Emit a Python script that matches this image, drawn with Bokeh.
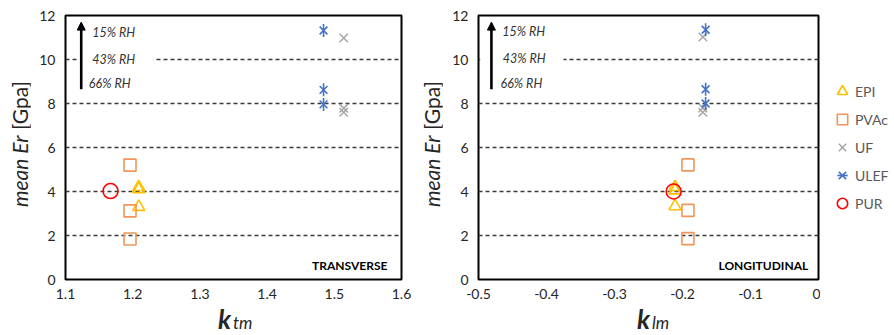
from math import pi
from bokeh.plotting import figure
from bokeh.models import (Range1d, Label, Legend, LegendItem, Arrow, NormalHead,
                          FixedTicker, BoxAnnotation, Div)
from bokeh.layouts import row, column
from bokeh.embed import file_html
from bokeh.resources import INLINE

# ---------------- data ----------------
adhesives = ["EPI", "PVAc", "UF", "ULEF", "PUR"]
rh_labels = ["15% RH", "43% RH", "66% RH"]

# transverse (k_tm)
epi_ktm = [1.209, 1.209, 1.209]
epi_er_t = [4.2, 4.1, 3.3]
pvac_ktm = [1.196, 1.196, 1.196]
pvac_er_t = [5.2, 3.12, 1.84]
uf_ktm = [1.514, 1.514, 1.514]
uf_er_t = [10.98, 7.78, 7.6]
ulef_ktm = [1.484, 1.484, 1.484]
ulef_er_t = [11.32, 8.62, 7.96]
pur_ktm = [1.167]
pur_er_t = [4.02]

# longitudinal (k_lm)
epi_klm = [-0.211, -0.211, -0.211]
epi_er_l = [4.2, 4.05, 3.33]
pvac_klm = [-0.192, -0.192, -0.192]
pvac_er_l = [5.21, 3.14, 1.86]
uf_klm = [-0.17, -0.17, -0.17]
uf_er_l = [11.02, 7.8, 7.6]
ulef_klm = [-0.166, -0.166, -0.166]
ulef_er_l = [11.35, 8.65, 8.0]
pur_klm = [-0.213]
pur_er_l = [4.0]

xticks_t = [1.1, 1.2, 1.3, 1.4, 1.5, 1.6]
xticks_l = [-0.5, -0.4, -0.3, -0.2, -0.1, 0.0]
yticks = [0, 2, 4, 6, 8, 10, 12]

FONT = "Lato"
TXT = "#262626"
C_EPI = "#FFC000"
C_PVAC = "#F0965A"
C_UF = "#A6A6A6"
C_ULEF = "#4472C4"
C_PUR = "#FF0000"

STYLE = {
    "EPI": dict(marker="triangle", size=12, fill_color=None, line_color=C_EPI, line_width=1.6),
    "PVAc": dict(marker="square", size=12, fill_color=None, line_color=C_PVAC, line_width=1.6),
    "UF": dict(marker="x", size=12, line_color=C_UF, line_width=1.5),
    "ULEF_a": dict(marker="x", size=11, line_color=C_ULEF, line_width=1.6),
    "ULEF_b": dict(marker="dash", angle=pi / 2, size=13, line_color=C_ULEF, line_width=1.6),
    "PUR": dict(marker="circle", size=15, fill_color=None, line_color=C_PUR, line_width=1.6),
}

FIG_H = 305


def make_panel(width, bl, br, xr, xticks, data, arrow_x, box_lr, rh_pos,
               mode_text, mode_x):
    p = figure(width=width, height=FIG_H, x_range=Range1d(*xr), y_range=Range1d(0, 12),
               output_backend="svg", toolbar_location=None,
               min_border_left=bl, min_border_right=br,
               min_border_top=15, min_border_bottom=26)
    p.background_fill_color = "white"
    p.border_fill_color = "white"
    p.outline_line_color = "black"
    p.outline_line_width = 2
    p.outline_line_alpha = 1

    for ax in (p.xaxis[0], p.yaxis[0]):
        ax.axis_line_color = None
        ax.major_tick_line_color = None
        ax.minor_tick_line_color = None
        ax.major_tick_out = 0
        ax.major_tick_in = 0
        ax.minor_tick_out = 0
        ax.major_label_text_font = FONT
        ax.major_label_text_font_size = "14px"
        ax.major_label_text_color = TXT
    p.xaxis.ticker = FixedTicker(ticks=xticks)
    p.xaxis.major_label_overrides = {t: ("0" if t == 0 else f"{t:g}") for t in xticks}
    p.xaxis.major_label_standoff = 9
    p.yaxis.ticker = FixedTicker(ticks=yticks)
    p.yaxis.major_label_standoff = 10

    p.xgrid.grid_line_color = None
    p.ygrid.ticker = FixedTicker(ticks=[2, 4, 6, 8, 10])
    p.ygrid.grid_line_color = "#3a3a3a"
    p.ygrid.grid_line_dash = "4 3"
    p.ygrid.grid_line_width = 1.3

    (ex, ey), (px, py), (ux, uy), (lx, ly), (rx, ry) = data
    p.scatter(ex, ey, **STYLE["EPI"])
    p.scatter(px, py, **STYLE["PVAc"])
    p.scatter(ux, uy, **STYLE["UF"])
    p.scatter(lx, ly, **STYLE["ULEF_a"])
    p.scatter(lx, ly, **STYLE["ULEF_b"])
    p.scatter(rx, ry, **STYLE["PUR"])

    # white box behind the RH annotation (interrupts the 10 grid line)
    p.add_layout(BoxAnnotation(left=box_lr[0], right=box_lr[1], bottom=9.6, top=10.4,
                               fill_color="white", fill_alpha=1, line_color=None))
    p.add_layout(Arrow(x_start=arrow_x, y_start=8.65, x_end=arrow_x, y_end=11.7,
                       line_width=2.6, line_color="black",
                       end=NormalHead(size=8, fill_color="black", line_color="black")))
    for (tx, ty), txt in zip(rh_pos, rh_labels):
        p.add_layout(Label(x=tx, y=ty, text=txt, text_font=FONT, text_font_style="italic",
                           text_font_size="12.5px", text_color="#333333",
                           text_baseline="middle", text_align="left"))
    p.add_layout(Label(x=mode_x, y=0.62, text=mode_text, text_font=FONT,
                       text_font_style="bold", text_font_size="12px", text_color="black",
                       text_baseline="middle", text_align="right"))
    return p


def ytitle(width, offset):
    html = (
        f'<div style="margin-left:{offset}px;margin-top:12px;width:24px;height:264px;'
        f'line-height:24px;writing-mode:vertical-rl;transform:rotate(180deg);'
        f'text-align:center;font-family:{FONT};font-size:21px;color:{TXT};white-space:nowrap;">'
        f'<span style="font-style:italic">mean Er</span> [Gpa]</div>'
    )
    return Div(text=html, width=width, height=FIG_H, margin=0)


def xtitle(width, kx, sub):
    html = (
        f'<div style="position:relative;width:{width}px;height:30px;font-family:{FONT};color:{TXT};">'
        f'<span style="position:absolute;left:{kx}px;top:1px;line-height:1;font-size:26px;'
        f'font-weight:bold;font-style:italic;">k</span>'
        f'<span style="position:absolute;left:{kx + 15}px;top:9px;line-height:1;font-size:17px;'
        f'font-style:italic;">{sub}</span></div>'
    )
    return Div(text=html, width=width, height=30, margin=0)


p1 = make_panel(
    388, 35, 17, (1.1, 1.6), xticks_t,
    [(epi_ktm, epi_er_t), (pvac_ktm, pvac_er_t), (uf_ktm, uf_er_t),
     (ulef_ktm, ulef_er_t), (pur_ktm, pur_er_t)],
    1.1234, (1.1193, 1.231),
    [(1.1397, 11.21), (1.1397, 10.0), (1.1347, 8.9)],
    "TRANSVERSE", 1.579)

p2 = make_panel(
    378, 36, 2, (-0.5, 0.0), xticks_l,
    [(epi_klm, epi_er_l), (pvac_klm, pvac_er_l), (uf_klm, uf_er_l),
     (ulef_klm, ulef_er_l), (pur_klm, pur_er_l)],
    -0.481, (-0.4975, -0.375),
    [(-0.4651, 11.27), (-0.4643, 10.03), (-0.4676, 8.9)],
    "LONGITUDINAL", -0.0151)

# legend panel: the transverse series again, lying outside this panel's view,
# serve only as legend keys; the legend is drawn inside this panel's frame
p3 = figure(width=74, height=FIG_H, x_range=Range1d(0, 1), y_range=Range1d(0, 1),
            output_backend="svg", toolbar_location=None,
            x_axis_location=None, y_axis_location=None,
            min_border_left=0, min_border_right=0, min_border_top=0, min_border_bottom=0)
p3.grid.visible = False
p3.outline_line_color = None
p3.background_fill_color = "white"
p3.border_fill_color = "white"
key_renderers = [
    [p3.scatter(epi_ktm, epi_er_t, **STYLE["EPI"])],
    [p3.scatter(pvac_ktm, pvac_er_t, **STYLE["PVAc"])],
    [p3.scatter(uf_ktm, uf_er_t, **STYLE["UF"])],
    [p3.scatter(ulef_ktm, ulef_er_t, **STYLE["ULEF_a"]),
     p3.scatter(ulef_ktm, ulef_er_t, **STYLE["ULEF_b"])],
    [p3.scatter(pur_ktm, pur_er_t, **STYLE["PUR"])],
]
items = [LegendItem(label=name, renderers=r) for name, r in zip(adhesives, key_renderers)]
legend = Legend(items=items, location=(9, 88), orientation="vertical",
                glyph_width=26, glyph_height=28, label_height=20, spacing=0,
                padding=11, margin=0, label_standoff=0,
                label_text_font=FONT, label_text_font_size="14px",
                label_text_color="#595959", border_line_color=None,
                background_fill_alpha=0)
p3.add_layout(legend)

layout = row(
    ytitle(30, 8),
    column(p1, xtitle(388, 188, "tm"), spacing=0),
    ytitle(24, 2),
    column(p2, xtitle(378, 195, "lm"), spacing=0),
    p3,
    spacing=0,
)
open("out.html", "w").write(file_html(layout, INLINE))
